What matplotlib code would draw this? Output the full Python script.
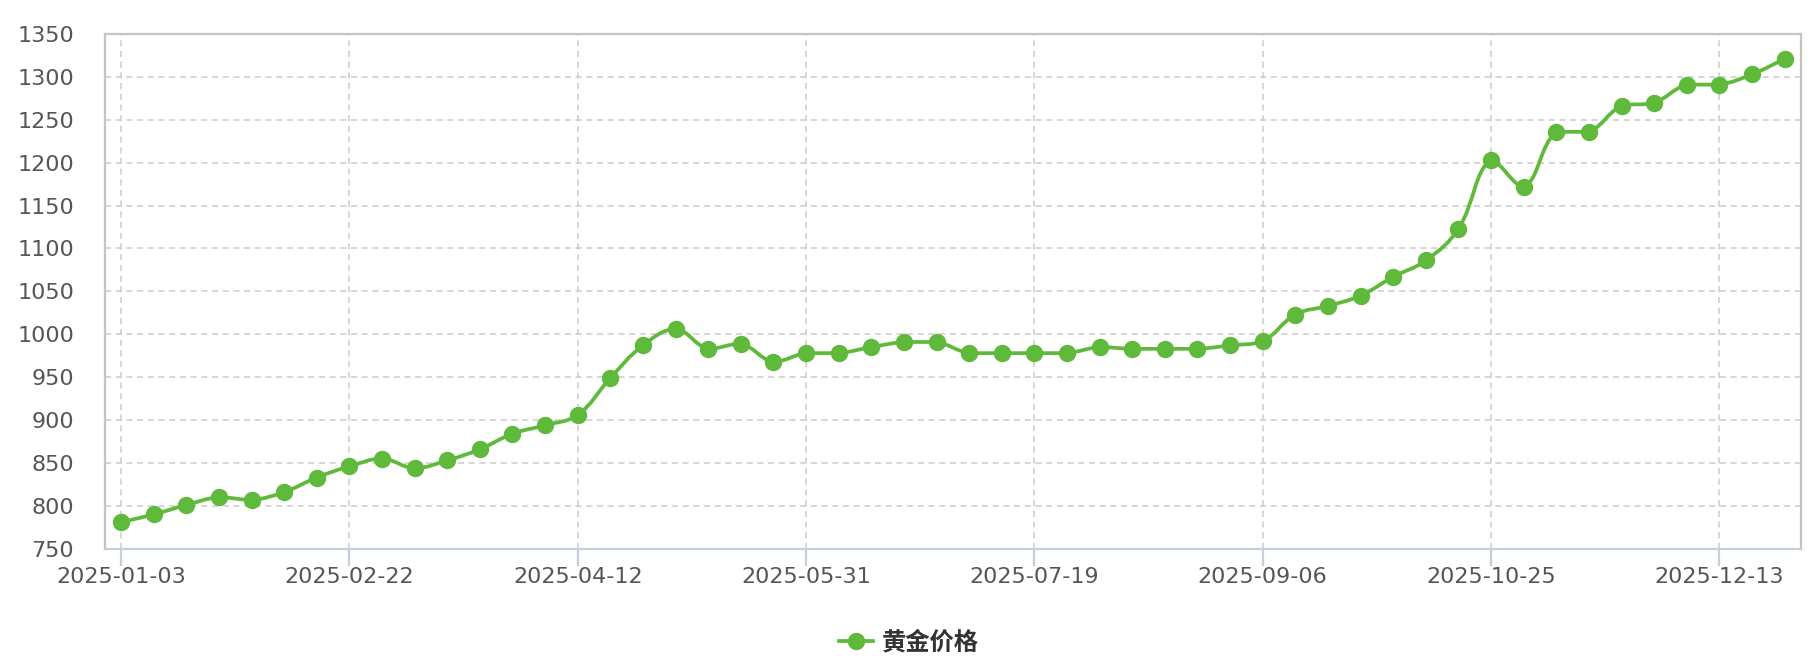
import numpy as np
import matplotlib
matplotlib.use("Agg")
import matplotlib.pyplot as plt
from matplotlib.path import Path
from matplotlib.patches import PathPatch
from matplotlib.lines import Line2D

plt.rcParams['font.family'] = ['DejaVu Sans', 'Noto Sans CJK SC']

# 周度黄金价格 (52 points), x 轴为类目轴
tick_labels = ['2025-01-03', '2025-02-22', '2025-04-12', '2025-05-31',
               '2025-07-19', '2025-09-06', '2025-10-25', '2025-12-13']
tick_index = [0, 7, 14, 21, 28, 35, 42, 49]
prices = [781, 790, 801, 810, 807, 816, 833, 846, 855, 844,
          853, 866, 884, 894, 906, 949, 987, 1006, 983, 989,
          968, 978, 978, 985, 991, 991, 978, 978, 978, 978,
          985, 983, 983, 983, 987, 992, 1023, 1033, 1045, 1067,
          1086, 1123, 1203, 1172, 1236, 1236, 1266, 1270, 1291, 1291,
          1303, 1321]
series_name = '黄金价格'

green = '#5fb93b'
x = np.arange(len(prices))
y = np.array(prices, dtype=float)

fig = plt.figure(figsize=(18.18, 6.62), dpi=100)
ax = fig.add_axes([0.0576, 0.1711, 0.9330, 0.7775])
ax.set_xlim(-0.5, len(prices) - 0.5)
ax.set_ylim(750, 1350)


# 平滑曲线 (类似 echarts smooth + smoothConstraint), 在像素空间中计算控制点
def smooth_path(xs, ys, smooth=0.4):
    sx = 32.6          # px per category
    sy = 0.857         # px per unit
    px, py = xs * sx, ys * sy
    n = len(xs)
    cp_out = []
    cp_in = []
    for i in range(n):
        pi = max(i - 1, 0)
        ni = min(i + 1, n - 1)
        vx, vy = px[ni] - px[pi], py[ni] - py[pi]
        lp = np.hypot(px[i] - px[pi], py[i] - py[pi])
        ln = np.hypot(px[ni] - px[i], py[ni] - py[i])
        r = ln / (ln + lp) if (ln + lp) > 0 else 0.5
        ix, iy = px[i] - vx * smooth * (1 - r), py[i] - vy * smooth * (1 - r)
        ox, oy = px[i] + vx * smooth * r, py[i] + vy * smooth * r
        iy = min(max(iy, min(py[pi], py[i])), max(py[pi], py[i]))
        oy = min(max(oy, min(py[ni], py[i])), max(py[ni], py[i]))
        cp_in.append((ix, iy))
        cp_out.append((ox, oy))
    verts = [(xs[0], ys[0])]
    codes = [Path.MOVETO]
    for i in range(1, n):
        c0 = cp_out[i - 1]
        c1 = cp_in[i]
        verts += [(c0[0] / sx, c0[1] / sy), (c1[0] / sx, c1[1] / sy), (xs[i], ys[i])]
        codes += [Path.CURVE4] * 3
    return Path(verts, codes)


ax.add_patch(PathPatch(smooth_path(x, y), facecolor='none', edgecolor=green,
                       lw=2.7, zorder=3, capstyle='round', joinstyle='round'))
ax.plot(x, y, ls='none', marker='o', ms=11.5, color=green, zorder=4)

# 网格
ax.set_yticks(np.arange(750, 1351, 50))
ax.set_xticks(tick_index)
ax.set_xticklabels(tick_labels)
ax.grid(True, color='#cccccc', ls=(0, (4, 3)), lw=1.1)
ax.set_axisbelow(True)

for side in ['top', 'right', 'left']:
    ax.spines[side].set_color('#c4c4c4')
    ax.spines[side].set_linewidth(1.6)
ax.spines['bottom'].set_color('#c2cfe0')
ax.spines['bottom'].set_linewidth(1.6)
ax.spines['bottom'].set_zorder(5)

ax.tick_params(axis='y', length=0, pad=22, labelsize=16, labelcolor='#555555')
ax.tick_params(axis='x', length=12, width=1.6, color='#c2cfe0', direction='out',
               pad=1, labelsize=16, labelcolor='#555555')

# 图例
handle = Line2D([0], [0], color=green, lw=2.7, marker='o', ms=11.5)
leg = fig.legend([handle], [series_name], loc='center', bbox_to_anchor=(0.5, 0.03),
                 frameon=False, handlelength=1.4, handletextpad=0.35,
                 prop={'family': ['Noto Sans CJK SC', 'DejaVu Sans'],
                       'size': 17.5, 'weight': 'bold'})
for t in leg.get_texts():
    t.set_color('#333333')

fig.savefig('out.png', dpi=100)
